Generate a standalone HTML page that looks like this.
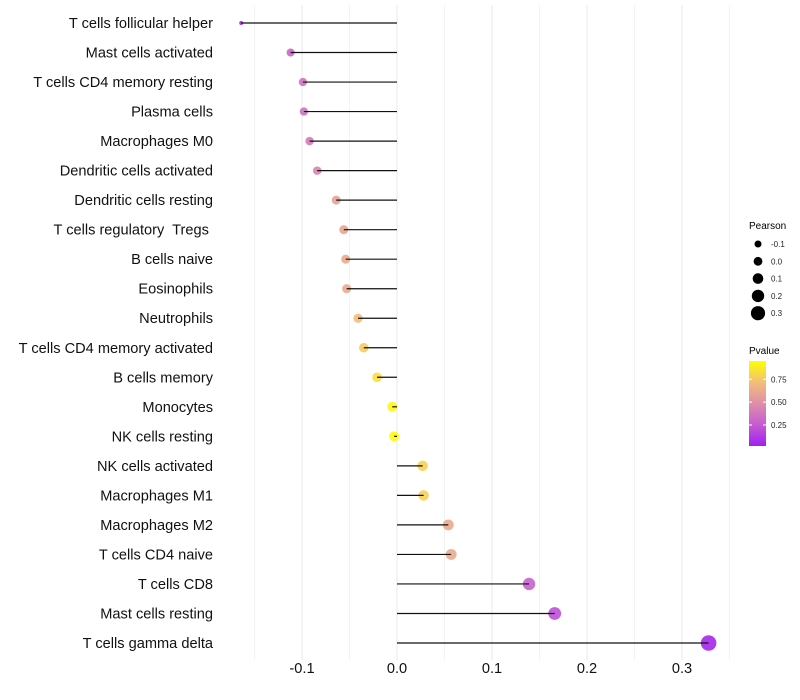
<!DOCTYPE html>
<html><head><meta charset="utf-8"><style>
body{margin:0;background:#fff;}
svg{display:block;font-family:"Liberation Sans",sans-serif;}
</style></head><body>
<svg id="chart" width="800" height="700">
<defs>
<linearGradient id="pg" x1="0" y1="1" x2="0" y2="0">
<stop offset="0" stop-color="#A020F0"/><stop offset="0.25" stop-color="#C55CD2"/>
<stop offset="0.5" stop-color="#DE8EAA"/><stop offset="0.75" stop-color="#F2BE7A"/>
<stop offset="1" stop-color="#FFFF00"/></linearGradient>
</defs>
<g id="grid"></g><g id="points"></g><g id="marks"></g><g id="labels"></g>
<g>
<text x="749" y="229" font-size="10">Pearson</text>
<g id="sizeleg"></g>
<text x="749" y="354" font-size="10">Pvalue</text>
<rect x="749" y="361" width="17" height="85" fill="url(#pg)"/>
<g id="colleg"></g>
</g>
</svg>
<script>
const categories=["T cells follicular helper","Mast cells activated","T cells CD4 memory resting","Plasma cells","Macrophages M0","Dendritic cells activated","Dendritic cells resting","T cells regulatory  Tregs ","B cells naive","Eosinophils","Neutrophils","T cells CD4 memory activated","B cells memory","Monocytes","NK cells resting","NK cells activated","Macrophages M1","Macrophages M2","T cells CD4 naive","T cells CD8","Mast cells resting","T cells gamma delta"];
const pearson=[-0.164,-0.112,-0.099,-0.098,-0.092,-0.084,-0.064,-0.056,-0.054,-0.053,-0.041,-0.035,-0.021,-0.005,-0.003,0.027,0.028,0.054,0.057,0.139,0.166,0.328];
const pvalue=[0.03,0.3,0.36,0.36,0.4,0.45,0.6,0.62,0.65,0.65,0.75,0.8,0.88,0.97,0.98,0.83,0.83,0.65,0.65,0.28,0.2,0.03];
const xTicks=[-0.1,0,0.1,0.2,0.3];
const xTickLabels=["-0.1","0.0","0.1","0.2","0.3"];
const sizeLegend=[-0.1,0,0.1,0.2,0.3];
const colorLegend=[0.25,0.5,0.75];
const NS="http://www.w3.org/2000/svg";
const X=v=>397+v*950;
const Y=i=>23+i*(620/21);
const R=v=>v< -0.13 ? 2 : 5+8.5*v;
const stops=[[0,[160,32,240]],[0.25,[197,92,210]],[0.5,[222,142,170]],[0.75,[242,190,122]],[1,[255,255,0]]];
function col(p){for(let k=0;k<stops.length-1;k++){const a=stops[k],b=stops[k+1];if(p<=b[0]){const t=(p-a[0])/(b[0]-a[0]);return 'rgb('+a[1].map((c,j)=>Math.round(c+(b[1][j]-c)*t)).join(',')+')';}}return 'rgb(255,255,0)';}
function mk(tag,at,par){const e=document.createElementNS(NS,tag);for(const k in at)e.setAttribute(k,at[k]);par.appendChild(e);return e;}
const g=document.getElementById('grid'),m=document.getElementById('marks'),pt=document.getElementById('points'),lb=document.getElementById('labels');
for(let v=-0.15;v<=0.351;v+=0.05){const l=mk('line',{x1:X(v),x2:X(v),y1:5,y2:660,stroke:'#ebebeb','stroke-width':Math.abs(Math.round(v*20)%2)===1?0.6:1.1},g);

}
xTicks.forEach((v,i)=>{const t=mk('text',{x:X(v),y:673,'font-size':14.6,'text-anchor':'middle',fill:'#111'},lb);t.textContent=xTickLabels[i];

});
categories.forEach((c,i)=>{const t=mk('text',{x:213,y:Y(i)+5,'font-size':14.6,'text-anchor':'end',fill:'#111',style:'white-space:pre'},lb);t.textContent=c;


const p=mk('circle',{cx:X(pearson[i]),cy:Y(i),r:R(pearson[i]),fill:col(pvalue[i]),'fill-opacity':0.9},pt);


const l=mk('line',{x1:X(0),x2:X(pearson[i]),y1:Y(i),y2:Y(i),stroke:'#111','stroke-width':1.2},m);

});
const sl=document.getElementById('sizeleg');
sizeLegend.forEach((v,i)=>{const y=244+i*17.3;const c=mk('circle',{cx:758,cy:y,r:4.4+v*9,fill:'#000'},sl);


const t=mk('text',{x:771,y:y+3,'font-size':8,fill:'#222'},sl);t.textContent=sizeLegend[i].toFixed(1);

});
const cl=document.getElementById('colleg');
colorLegend.forEach(v=>{const y=446-(v-0.02)/0.93*85;mk('line',{x1:749,x2:752,y1:y,y2:y,stroke:'#fff'},cl);mk('line',{x1:763,x2:766,y1:y,y2:y,stroke:'#fff'},cl);
const t=mk('text',{x:771,y:y+3,'font-size':8,fill:'#222'},cl);t.textContent=v.toFixed(2);

});
</script>
</body></html>
